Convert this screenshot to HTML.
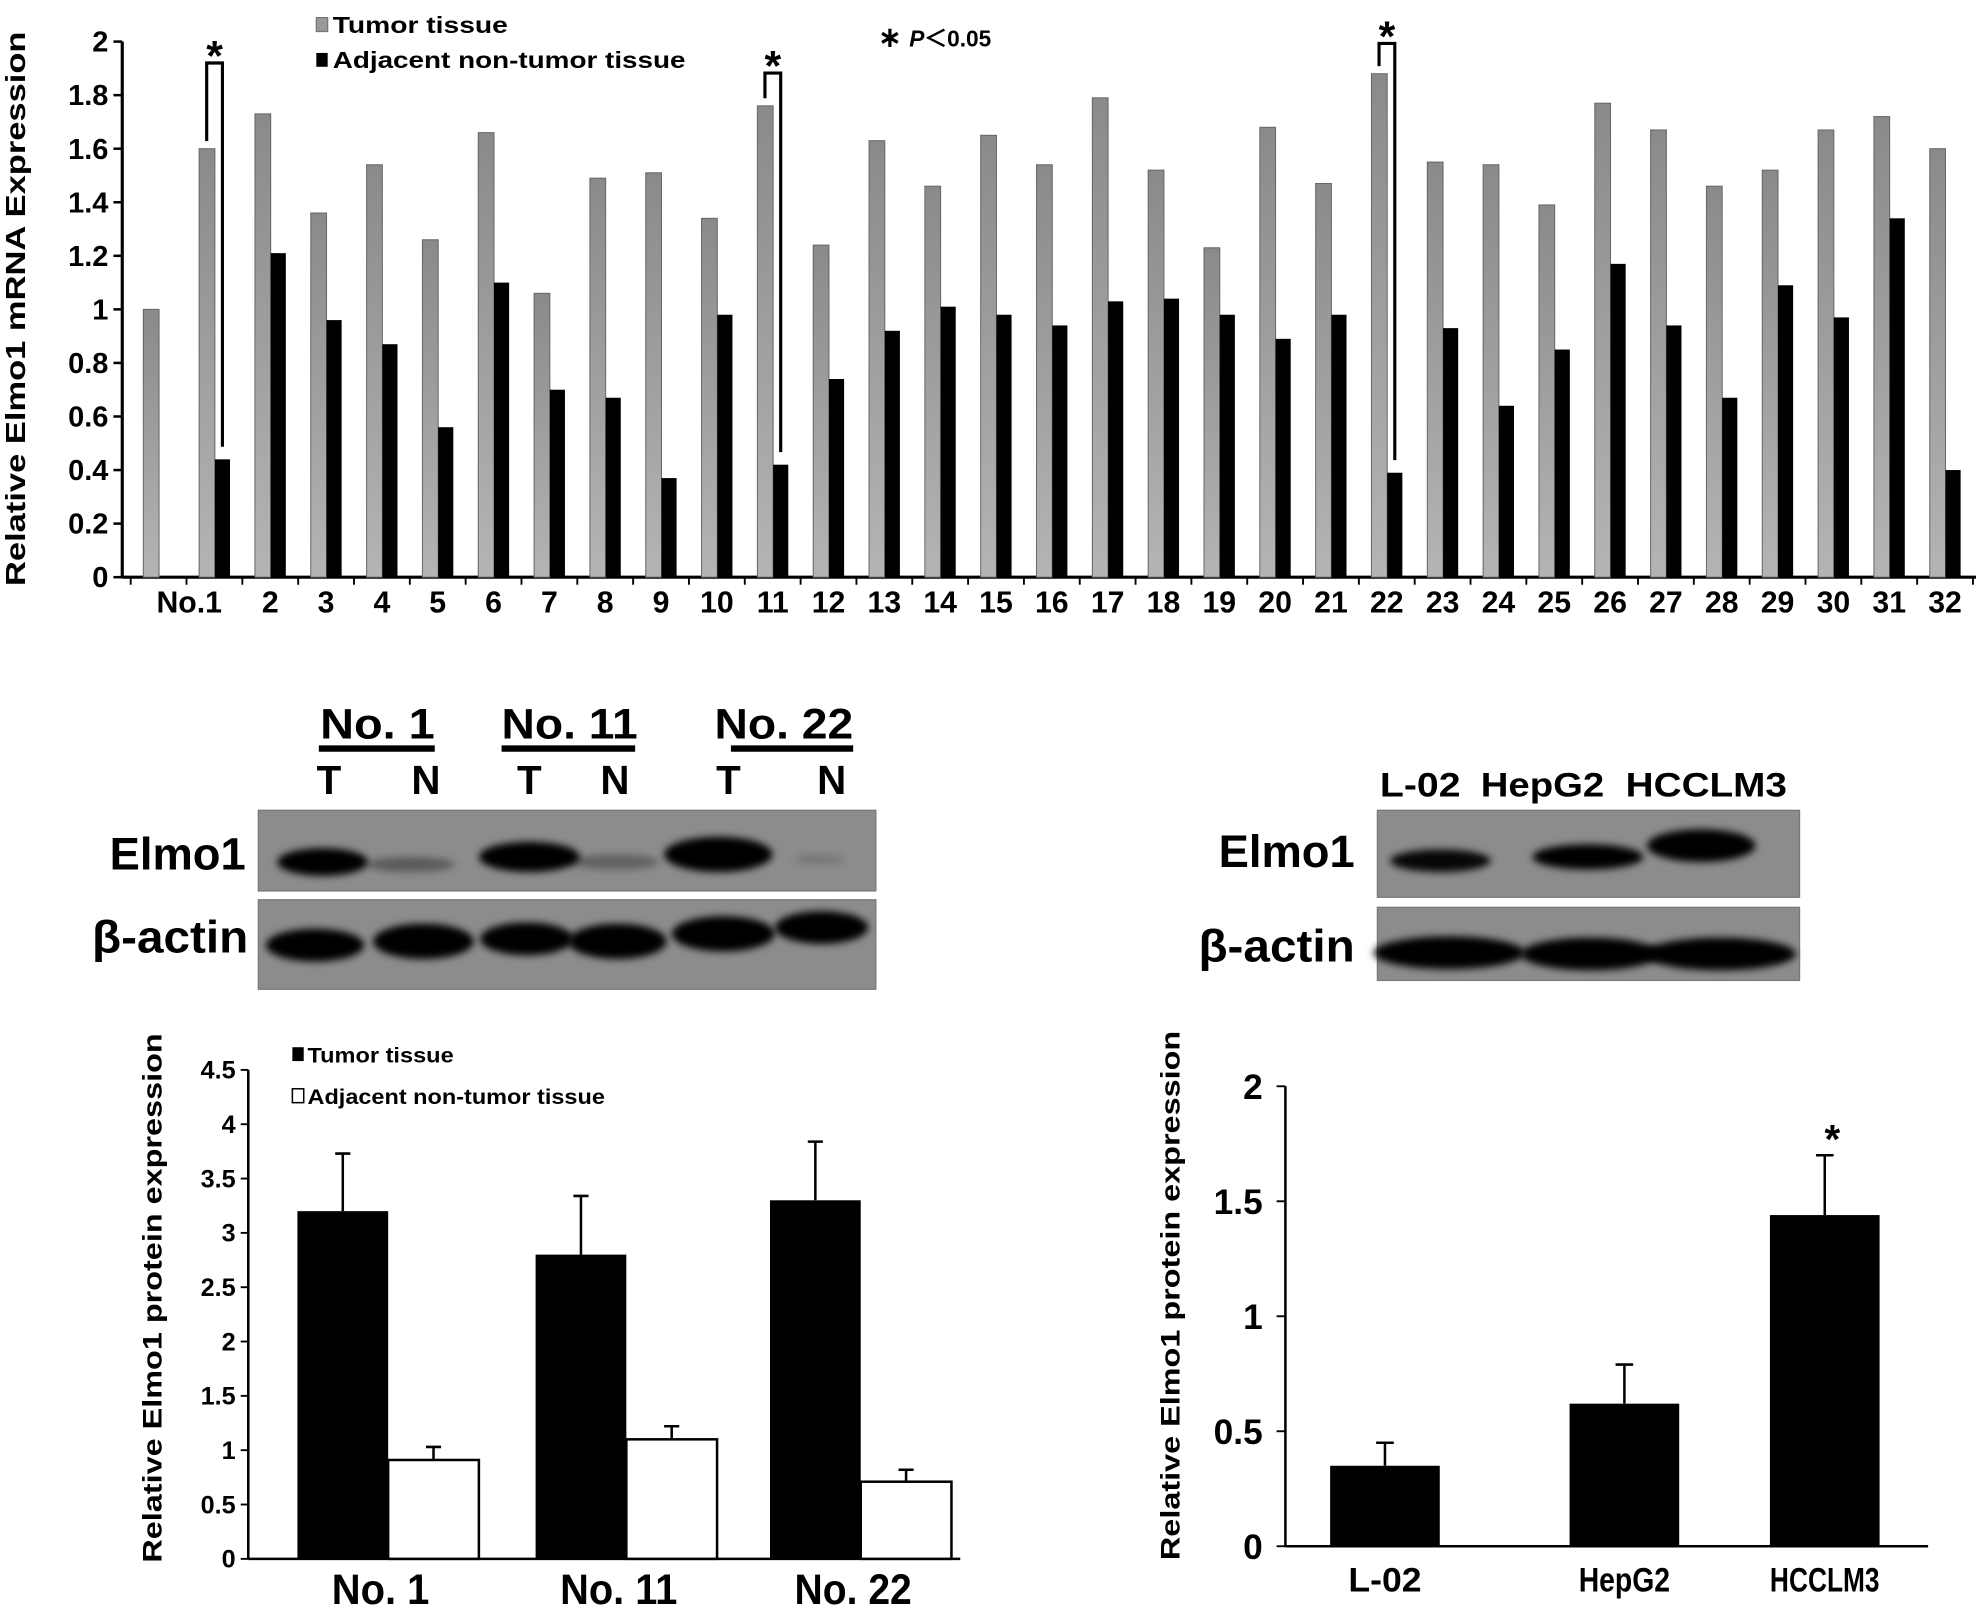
<!DOCTYPE html>
<html><head><meta charset="utf-8"><style>
html,body{margin:0;padding:0;background:#fff}
svg{display:block}
text{font-family:"Liberation Sans",sans-serif;font-weight:bold;fill:#000}
</style></head><body>
<svg id="fig" width="1976" height="1608" viewBox="0 0 1568 1276" xmlns="http://www.w3.org/2000/svg">
<defs>
<linearGradient id="gray" x1="0" y1="0" x2="0" y2="1"><stop offset="0" stop-color="#8a8a8a"/><stop offset="1" stop-color="#b4b4b4"/></linearGradient>
<filter id="blur" x="-20%" y="-50%" width="140%" height="200%"><feGaussianBlur stdDeviation="3"/></filter>
</defs>
<g id="top"></g>
<g id="blots"></g>
<g id="bl"></g>
<g id="br"></g>
</svg>
<script>
const NS="http://www.w3.org/2000/svg";
function mk(p,tag,a,txt){const e=document.createElementNS(NS,tag);for(const k in a)e.setAttribute(k,a[k]);if(txt!==undefined)e.textContent=txt;p.appendChild(e);return e;}

// ---------- Top chart data ----------
const mrnaCats=["","No.1","2","3","4","5","6","7","8","9","10","11","12","13","14","15","16","17","18","19","20","21","22","23","24","25","26","27","28","29","30","31","32"];
const mrnaTumor=[1.0,1.60,1.73,1.36,1.54,1.26,1.66,1.06,1.49,1.51,1.34,1.76,1.24,1.63,1.46,1.65,1.54,1.79,1.52,1.23,1.68,1.47,1.88,1.55,1.54,1.39,1.77,1.67,1.46,1.52,1.67,1.72,1.60];
const mrnaAdj=[null,0.44,1.21,0.96,0.87,0.56,1.10,0.70,0.67,0.37,0.98,0.42,0.74,0.92,1.01,0.98,0.94,1.03,1.04,0.98,0.89,0.98,0.39,0.93,0.64,0.85,1.17,0.94,0.67,1.09,0.97,1.34,0.40];
const mrnaTicks=["0","0.2","0.4","0.6","0.8","1","1.2","1.4","1.6","1.8","2"];
const sigGroups=[1,11,22];
const sigGap=[68,26,24];

// ---------- Bottom-left data ----------
const tisCats=["No. 1","No. 11","No. 22"];
const tisTumor=[3.2,2.8,3.3];
const tisTumorErr=[0.53,0.54,0.54];
const tisAdj=[0.91,1.1,0.71];
const tisAdjErr=[0.12,0.12,0.11];
const tisTicks=["0","0.5","1","1.5","2","2.5","3","3.5","4","4.5"];

// ---------- Bottom-right data ----------
const cellCats=["L-02","HepG2","HCCLM3"];
const cellVals=[0.35,0.62,1.44];
const cellErr=[0.10,0.17,0.26];
const cellTicks=["0","0.5","1","1.5","2"];

// ===== Top chart =====
(function(){
const g=document.getElementById('top');
const x0=103.7,gw=44.3,y0=458,yTop=33,ymax=2;
const Y=v=>y0-(v/ymax)*(y0-yTop);
const X=i=>x0+i*gw;
let e=mk(g,'line',{x1:97,y1:33,x2:97,y2:y0,stroke:'#000','stroke-width':2.5});

mrnaTicks.forEach((t,i)=>{const v=parseFloat(t);const y=Y(v);
 mk(g,'line',{x1:90,y1:y,x2:97,y2:y,stroke:'#000','stroke-width':2});
 const tx=mk(g,'text',{x:86,y:y+8,'text-anchor':'end','font-size':23},t);
 });
e=mk(g,'line',{x1:97,y1:y0,x2:1568,y2:y0,stroke:'#000','stroke-width':2.5});

for(let i=0;i<=mrnaCats.length;i++){mk(g,'line',{x1:X(i),y1:y0,x2:X(i),y2:y0+6,stroke:'#000','stroke-width':1.5});}
mrnaCats.forEach((c,i)=>{
 const gx=X(i);
 const b=mk(g,'rect',{x:gx+10,y:Y(mrnaTumor[i]),width:12.5,height:y0-Y(mrnaTumor[i]),fill:'url(#gray)',stroke:'#666','stroke-width':0.8});
 
 if(mrnaAdj[i]!==null){const k=mk(g,'rect',{x:gx+22.5,y:Y(mrnaAdj[i]),width:12,height:y0-Y(mrnaAdj[i]),fill:'#000'});
  }
 if(c){const cx=c.length>2?gx+gw/2-20:gx+gw/2;
  const t=mk(g,'text',{x:cx,y:486,'text-anchor':'middle','font-size':24},c);
  }
});
sigGroups.forEach((i,k)=>{
 const gx=X(i),lx=gx+16,rx=gx+28.5;
 const top=Y(mrnaTumor[i])-sigGap[k];
 const p=mk(g,'path',{d:`M${lx} ${Y(mrnaTumor[i])-6} V${top} H${rx} V${Y(mrnaAdj[i])-10}`,fill:'none',stroke:'#000','stroke-width':2.5});
 
 const s=mk(g,'text',{x:(lx+rx)/2,y:top+6,'text-anchor':'middle','font-size':34},'*');
 
});
e=mk(g,'text',{x:0,y:0,transform:'translate(20,245) rotate(-90)','text-anchor':'middle','font-size':22,textLength:440,lengthAdjust:'spacingAndGlyphs'},'Relative Elmo1 mRNA Expression');

let l=mk(g,'g',{});
mk(l,'rect',{x:251,y:14,width:9,height:11,fill:'#999',stroke:'#777'});
let lt=mk(l,'text',{x:264,y:26,'font-size':18,textLength:139,lengthAdjust:'spacingAndGlyphs'},'Tumor tissue');
mk(l,'rect',{x:251,y:42,width:9,height:11,fill:'#000'});
lt=mk(l,'text',{x:264,y:54,'font-size':18,textLength:280,lengthAdjust:'spacingAndGlyphs'},'Adjacent non-tumor tissue');
e=mk(g,'text',{x:697,y:37,'font-size':18},'');
e.innerHTML='<tspan font-size="22">∗ </tspan><tspan font-style="italic">P</tspan>＜0.05';
})();

// ===== Blots =====
(function(){
const g=document.getElementById('blots');
function box(x,y,w,h,name){const r=mk(g,'rect',{x,y,width:w,height:h,fill:'#8c8c8c',stroke:'#777','stroke-width':1});}
function band(cx,cy,w,h,op){const b=mk(g,'ellipse',{cx,cy,rx:w/2,ry:h/2,fill:'#000',opacity:op,filter:'url(#blur)'});}
function label(x,y,s,t,anchor,len,name){const e=mk(g,'text',{x,y,'font-size':s,'text-anchor':anchor||'start'},t);if(len){e.setAttribute('textLength',len);e.setAttribute('lengthAdjust','spacingAndGlyphs');}}
[["No. 1",254,91],["No. 11",398,108],["No. 22",567,110]].forEach(a=>label(a[1],586,34,a[0],'start',a[2],'sample-label'));
[[253,345],[398,504],[580,677]].forEach(a=>mk(g,'line',{x1:a[0],y1:594,x2:a[1],y2:594,stroke:'#000','stroke-width':5}));
[["T",261],["N",338],["T",420],["N",488],["T",578],["N",660]].forEach(a=>label(a[1],630,32,a[0],'middle',null,'lane-label'));
box(205,643,490,64,'elmo1-blot');box(205,714,490,71,'actin-blot');
band(256,684,72,22,1);band(326,686,70,12,0.35);band(420,680,80,24,1);band(488,684,70,12,0.3);band(570,678,86,28,1);band(650,682,40,8,0.15);
band(250,750,78,26,1);band(336,747,80,28,1);band(418,745,74,26,1);band(490,747,78,28,1);band(574,741,82,28,1);band(652,736,74,26,1);
label(195,690,36,'Elmo1','end',108,'row-label');label(197,756,36,'β-actin','end',124,'row-label');
[["L-02",1127,64],["HepG2",1224,98],["HCCLM3",1354,128]].forEach(a=>label(a[1],632,27,a[0],'middle',a[2],'cell-line-label'));
box(1093,643,335,69,'elmo1-blot-cells');box(1093,720,335,58,'actin-blot-cells');
band(1143,683,80,18,0.95);band(1260,680,88,20,1);band(1350,671,86,26,1);
band(1150,756,120,26,1);band(1262,757,110,26,1);band(1365,757,120,26,1);
label(1075,688,36,'Elmo1','end',108,'row-label');label(1075,763,36,'β-actin','end',124,'row-label');
})();

// ===== Bottom-left chart =====
(function(){
const g=document.getElementById('bl');
const ax=197,y0=1237,yTop=849,ymax=4.5;
const Y=v=>y0-(v/ymax)*(y0-yTop);
const centers=[308,497,683],bw=72;
let e=mk(g,'line',{x1:ax,y1:yTop,x2:ax,y2:y0,stroke:'#000','stroke-width':2});
e=mk(g,'line',{x1:ax,y1:y0,x2:762,y2:y0,stroke:'#000','stroke-width':2});
tisTicks.forEach(t=>{const y=Y(parseFloat(t));mk(g,'line',{x1:ax-6,y1:y,x2:ax,y2:y,stroke:'#000','stroke-width':1.5});
 const tx=mk(g,'text',{x:ax-10,y:y+7,'text-anchor':'end','font-size':20},t);});
function err(cx,top,ev){const et=top-(ev/ymax)*(y0-yTop);mk(g,'path',{d:`M${cx} ${top} V${et} M${cx-6} ${et} H${cx+6}`,stroke:'#000','stroke-width':2,fill:'none'});}
tisCats.forEach((c,i)=>{const cx=centers[i];
 const b=mk(g,'rect',{x:cx-bw,y:Y(tisTumor[i]),width:bw,height:y0-Y(tisTumor[i]),fill:'#000'});
 err(cx-bw/2,Y(tisTumor[i]),tisTumorErr[i]);
 const w=mk(g,'rect',{x:cx,y:Y(tisAdj[i]),width:bw,height:y0-Y(tisAdj[i]),fill:'#fff',stroke:'#000','stroke-width':2});
 err(cx+bw/2,Y(tisAdj[i]),tisAdjErr[i]);
 const t=mk(g,'text',{x:cx-6,y:1273,'text-anchor':'middle','font-size':34,textLength:c.length*15.5,lengthAdjust:'spacingAndGlyphs'},c);
});
e=mk(g,'text',{x:0,y:0,transform:'translate(128,1030) rotate(-90)','text-anchor':'middle','font-size':21,textLength:420,lengthAdjust:'spacingAndGlyphs'},'Relative Elmo1 protein  expression');
const l=mk(g,'g',{});
mk(l,'rect',{x:232,y:831,width:9,height:11,fill:'#000'});
let t=mk(l,'text',{x:244,y:843,'font-size':17,textLength:116,lengthAdjust:'spacingAndGlyphs'},'Tumor tissue');
mk(l,'rect',{x:232,y:864,width:9,height:11,fill:'#fff',stroke:'#000','stroke-width':1.2});
t=mk(l,'text',{x:244,y:876,'font-size':17,textLength:236,lengthAdjust:'spacingAndGlyphs'},'Adjacent non-tumor tissue');
})();

// ===== Bottom-right chart =====
(function(){
const g=document.getElementById('br');
const ax=1020,y0=1227,yTop=862,ymax=2;
const Y=v=>y0-(v/ymax)*(y0-yTop);
const centers=[1099,1289,1448],bw=87;
let e=mk(g,'line',{x1:ax,y1:yTop,x2:ax,y2:y0,stroke:'#000','stroke-width':2});
e=mk(g,'line',{x1:ax,y1:y0,x2:1530,y2:y0,stroke:'#000','stroke-width':2});
cellTicks.forEach(t=>{const y=Y(parseFloat(t));mk(g,'line',{x1:ax-7,y1:y,x2:ax,y2:y,stroke:'#000','stroke-width':1.5});
 const tx=mk(g,'text',{x:ax-18,y:y+10,'text-anchor':'end','font-size':28},t);});
cellCats.forEach((c,i)=>{const cx=centers[i];
 const b=mk(g,'rect',{x:cx-bw/2,y:Y(cellVals[i]),width:bw,height:y0-Y(cellVals[i]),fill:'#000'});
 const et=Y(cellVals[i]+cellErr[i]);
 mk(g,'path',{d:`M${cx} ${Y(cellVals[i])} V${et} M${cx-7} ${et} H${cx+7}`,stroke:'#000','stroke-width':2,fill:'none'});
 const t=mk(g,'text',{x:cx,y:1263,'text-anchor':'middle','font-size':27,textLength:c.length*14.5,lengthAdjust:'spacingAndGlyphs'},c);
});
e=mk(g,'text',{x:centers[2]+6,y:Y(cellVals[2]+cellErr[2])-2,'text-anchor':'middle','font-size':32},'*');
e=mk(g,'text',{x:0,y:0,transform:'translate(936,1028) rotate(-90)','text-anchor':'middle','font-size':21,textLength:420,lengthAdjust:'spacingAndGlyphs'},'Relative Elmo1 protein  expression');
})();
</script>
</body></html>
